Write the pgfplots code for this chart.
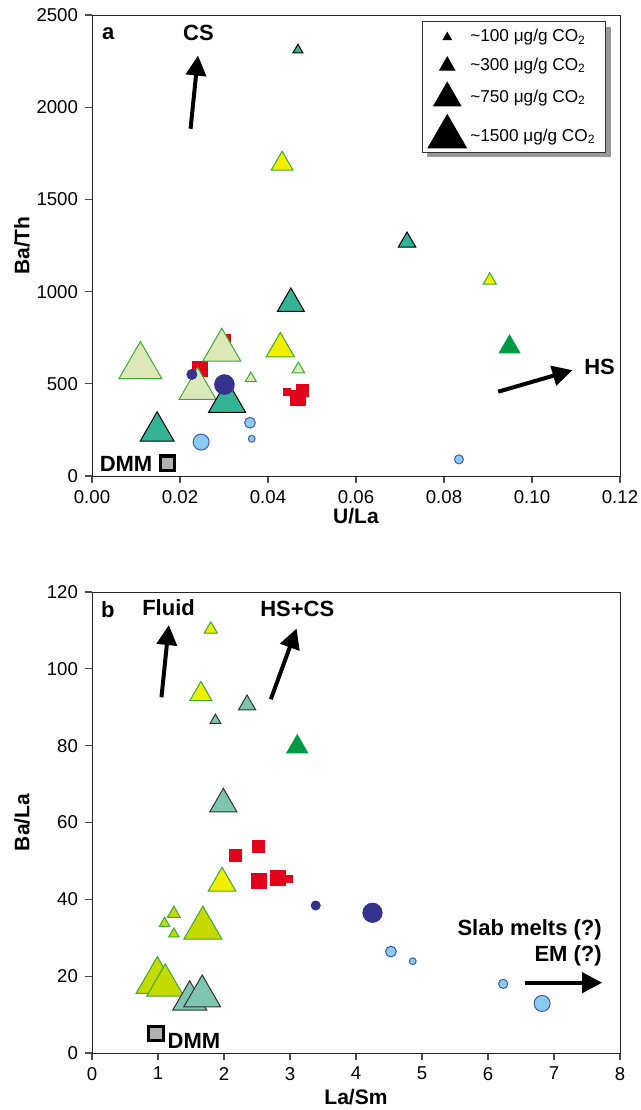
\documentclass[border=0pt]{standalone}
\usepackage{fontspec}
\setmainfont{Liberation Sans}
\usepackage{pgfplots}
\pgfplotsset{compat=1.18}
\usetikzlibrary{arrows.meta,shadows}

\definecolor{tealA}{HTML}{34B496}
\definecolor{tealB}{HTML}{7DC5AE}
\definecolor{greenS}{HTML}{009A44}
\definecolor{yellowS}{HTML}{F2EE00}
\definecolor{edgeG}{HTML}{3AAA35}
\definecolor{paleS}{HTML}{DDE8B9}
\definecolor{limeS}{HTML}{C5DA00}
\definecolor{navyS}{HTML}{36338F}
\definecolor{lblue}{HTML}{8ACBEF}
\definecolor{lbedge}{HTML}{3C5DAF}
\definecolor{redS}{HTML}{E2001A}

\tikzset{
  ann/.style={font=\fontsize{11}{13}\selectfont\bfseries},
  arr/.style={line width=2pt, -{Triangle[length=10pt,width=10pt]}},
}
\pgfplotsset{
  myaxis/.style={
    scale only axis, width=264pt, height=230.5pt,
    axis line style={black!85},
    tick style={black!70, line width=0.6pt},
    major tick length=3.5pt, tick align=outside,
    xtick pos=bottom, ytick pos=left,
    tick label style={font=\fontsize{9.3}{11}\selectfont},
    label style={font=\fontsize{10.5}{12}\selectfont\bfseries},
    /pgf/number format/assume math mode=true,
    /pgf/number format/1000 sep={},
    clip=false,
    x label style={at={(axis description cs:0.5,0)}, anchor=center},
    y label style={at={(axis description cs:-0.1326,0.5)}, anchor=center},
  },
  pts/.style n args={3}{only marks, mark=#1, scatter, line width=0.5pt,
    visualization depends on={\thisrow{s}\as\msz},
    scatter/use mapped color={draw=#2, fill=#3},
    scatter/@pre marker code/.append style={/tikz/mark size=\msz pt},
    forget plot},
}

\begin{document}
\begin{tikzpicture}
\path[use as bounding box] (0,0) rectangle (320.5pt,-555pt);

% ---------------- panel a ----------------
\begin{axis}[myaxis, at={(46pt,-7.5pt)}, anchor=north west,
  xmin=0, xmax=0.12, ymin=0, ymax=2500,
  xtick={0,0.02,...,0.12}, ytick={0,500,...,2500},
  xticklabel style={/pgf/number format/.cd, fixed, fixed zerofill, precision=2},
  xlabel={U/La}, ylabel={Ba/Th},
  x label style={yshift=-20pt},
  legend style={at={(1,1)}, anchor=north east, xshift=-7pt, yshift=-3pt,
    draw=black!80, fill=white, line width=0.5pt,
    drop shadow={shadow xshift=2.5pt, shadow yshift=-2.5pt, fill=black!40, opacity=1},
    font=\fontsize{8.6}{10}\selectfont, cells={anchor=west}, row sep=2.5pt},
  legend image code/.code={\draw[#1, mark repeat=2, mark phase=2] plot coordinates {(0pt,0pt)(11pt,0pt)(22pt,0pt)};},
]
\addplot[pts={square*}{redS}{redS}] table[row sep=\\] {
x y s\\
0.0302 737 3.0\\
0.0246 580 3.75\\
0.0443 454 1.75\\
0.0478 466 3.0\\
0.0469 423 3.7\\
};
\addplot[pts={triangle*}{edgeG}{paleS}] table[row sep=\\] {
x y s\\
0.0110 595 12.4\\
0.0295 682 11.0\\
0.0240 473 10.7\\
0.0361 529 3.2\\
0.0469 579 3.6\\
};
\addplot[pts={triangle*}{edgeG}{yellowS}] table[row sep=\\] {
x y s\\
0.0432 1693 6.3\\
0.0904 1061 3.8\\
0.0428 690 8.2\\
};
\addplot[pts={triangle*}{black}{tealA}] table[row sep=\\] {
x y s\\
0.0468 2310 2.9\\
0.0716 1269 5.0\\
0.0452 935 7.8\\
0.0307 403 10.7\\
0.0148 242 9.8\\
};
\addplot[pts={triangle*}{greenS}{greenS}] table[row sep=\\] {
x y s\\
0.0949 700 5.9\\
};
\addplot[pts={*}{navyS}{navyS}] table[row sep=\\] {
x y s\\
0.0227 551 2.5\\
0.0301 496 4.9\\
};
\addplot[pts={*}{lbedge}{lblue}] table[row sep=\\] {
x y s\\
0.0359 289 2.7\\
0.0363 202 1.7\\
0.0248 184 4.0\\
0.0834 90 2.25\\
};
\addplot[only marks, mark=square*, mark size=3.6pt, line width=1.6pt,
  mark options={draw=black, fill=black!30}, forget plot] coordinates {(0.0172,69)};

\addlegendimage{only marks, mark=triangle*, mark size=2.3pt, black}
\addlegendentry{\textasciitilde100 μg/g CO\textsubscript{2}}
\addlegendimage{only marks, mark=triangle*, mark size=4.3pt, black}
\addlegendentry{\textasciitilde300 μg/g CO\textsubscript{2}}
\addlegendimage{only marks, mark=triangle*, mark size=7.8pt, black}
\addlegendentry{\textasciitilde750 μg/g CO\textsubscript{2}}
\addlegendimage{only marks, mark=triangle*, mark size=11pt, black}
\addlegendentry{\textasciitilde1500 μg/g CO\textsubscript{2}}

\node[ann] at (axis cs:0.0037,2397) {a};
\node[ann] at (axis cs:0.0242,2401) {CS};
\draw[arr] (axis cs:0.0224,1883) -- (axis cs:0.0241,2280);
\node[ann, anchor=west, inner sep=0pt] at (axis cs:0.1118,590) {HS};
\draw[arr] (axis cs:0.0923,457) -- (axis cs:0.1092,574);
\node[ann, anchor=east, inner sep=0pt] at (axis cs:0.0138,63) {DMM};
\end{axis}

% ---------------- panel b ----------------
\begin{axis}[myaxis, at={(46pt,-296pt)}, anchor=north west,
  xmin=0, xmax=8, ymin=0, ymax=120,
  xtick={0,1,...,8}, ytick={0,20,...,120},
  xlabel={La/Sm}, ylabel={Ba/La},
  x label style={yshift=-22pt},
]
\addplot[pts={square*}{redS}{redS}] table[row sep=\\] {
x y s\\
2.99 45.2 1.7\\
2.18 51.3 3.0\\
2.52 53.7 3.0\\
2.53 44.8 3.6\\
2.82 45.6 3.75\\
};
\addplot[pts={triangle*}{edgeG}{limeS}] table[row sep=\\] {
x y s\\
1.24 36.3 3.7\\
1.10 33.7 3.1\\
1.24 31.0 3.0\\
1.68 32.5 11.0\\
0.99 18.7 12.3\\
1.11 17.6 10.7\\
};
\addplot[pts={triangle*}{edgeG}{yellowS}] table[row sep=\\] {
x y s\\
1.80 110.3 3.75\\
1.65 93.4 6.35\\
1.97 44.2 8.0\\
};
\addplot[pts={triangle*}{black!80}{tealB}] table[row sep=\\] {
x y s\\
2.35 90.6 5.0\\
1.87 86.6 3.1\\
1.99 64.8 7.9\\
1.48 13.7 9.8\\
1.67 14.8 10.6\\
};
\addplot[pts={triangle*}{greenS}{greenS}] table[row sep=\\] {
x y s\\
3.11 79.7 6.0\\
};
\addplot[pts={*}{navyS}{navyS}] table[row sep=\\] {
x y s\\
3.39 38.4 2.25\\
4.25 36.5 4.8\\
};
\addplot[pts={*}{lbedge}{lblue}] table[row sep=\\] {
x y s\\
4.53 26.4 2.7\\
4.86 23.9 1.7\\
6.23 18.0 2.3\\
6.82 12.9 4.0\\
};
\addplot[only marks, mark=square*, mark size=3.6pt, line width=1.6pt,
  mark options={draw=black, fill=black!30}, forget plot] coordinates {(0.97,5.1)};

\node[ann] at (axis cs:0.24,115.3) {b};
\node[ann] at (axis cs:1.16,115.9) {Fluid};
\draw[arr] (axis cs:1.053,92.6) -- (axis cs:1.164,111.4);
\node[ann] at (axis cs:3.11,115.7) {HS+CS};
\draw[arr] (axis cs:2.71,92.1) -- (axis cs:3.10,110.5);
\node[ann, anchor=east, align=right, inner sep=0pt] at (axis cs:7.73,28.6) {Slab melts (?)\\EM (?)};
\draw[arr] (axis cs:6.56,18.3) -- (axis cs:7.73,18.3);
\node[ann, anchor=base west, inner sep=0pt] at (axis cs:1.14,1.2) {DMM};
\end{axis}
\end{tikzpicture}
\end{document}
